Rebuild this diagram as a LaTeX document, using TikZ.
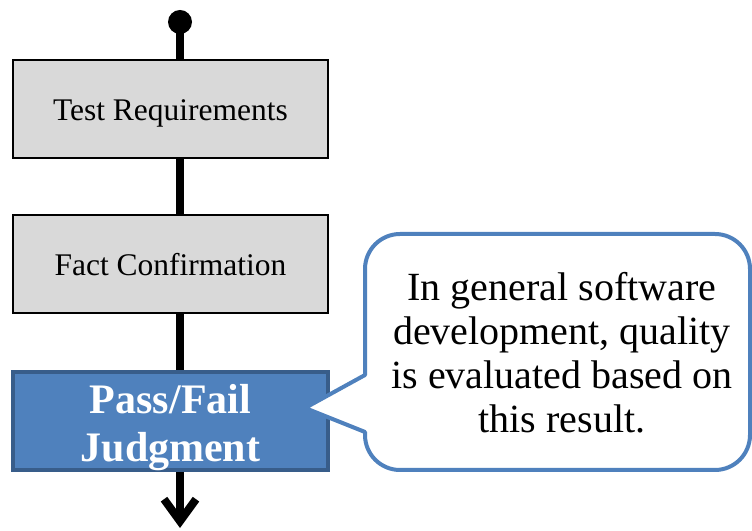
\documentclass[tikz,border=0pt]{standalone}
\usepackage{fontspec}
\setmainfont{Liberation Serif}
\usetikzlibrary{arrows.meta}
\definecolor{boxgray}{HTML}{D9D9D9}
\definecolor{accent}{HTML}{4F81BD}
\definecolor{accentdark}{HTML}{385D8A}
\begin{document}
\begin{tikzpicture}[x=1pt,y=1pt,
  stepbox/.style={draw=black, line width=1.5pt, fill=boxgray,
    minimum width=315pt, minimum height=98pt, inner sep=0pt,
    text height=30pt, text depth=7pt,
    font=\fontsize{31.5}{36}\selectfont},
  keybox/.style={draw=accentdark, line width=4pt, fill=accent, text=white,
    minimum width=315pt, minimum height=98pt, inner sep=0pt,
    font=\fontsize{42}{48}\selectfont\bfseries},
  flow/.style={line width=8pt},
  callout/.style={draw=accent, line width=4pt, fill=white, line join=round},
  notetext/.style={font=\fontsize{40}{44}\selectfont, align=center, inner sep=0pt}]
\useasboundingbox (0,0) rectangle (752,530);

% process steps
\node[stepbox] (req) at (170.5,421) {Test Requirements};
\node[stepbox] (fact) at (170.5,266) {Fact Confirmation};
\node[keybox] (judge) at (170.5,109)
  {\raisebox{-7pt}[\height][\depth]{\begin{tabular}{@{}c@{}}Pass/Fail\\Judgment\end{tabular}}};

% start point and open end of the flow
\node[circle, fill=black, inner sep=0pt, minimum size=24pt] (start) at (180,508) {};
\coordinate (end) at (180,2);

% flow line
\draw[flow] (start.center) -- (start |- req.north);
\draw[flow] (req.south -| start) -- (fact.north -| start);
\draw[flow] (fact.south -| start) -- (judge.north -| start);
\draw[flow, -{Straight Barb[length=22pt,width=32pt]}] (judge.south -| start) -- (end);

% speech bubble pointing at the judgment step
\draw[callout] (365,155) -- (365,261)
  arc[start angle=180, end angle=90, radius=35] -- (715,296)
  arc[start angle=90, end angle=0, radius=35] -- (750,95)
  arc[start angle=0, end angle=-90, radius=35] -- (400,60)
  arc[start angle=270, end angle=180, radius=35] -- (365,98)
  -- (305,122) -- cycle;
\node[notetext] (note) at (562,177)
  {In general software\\development, quality\\is evaluated based on\\this result.};
\end{tikzpicture}
\end{document}
